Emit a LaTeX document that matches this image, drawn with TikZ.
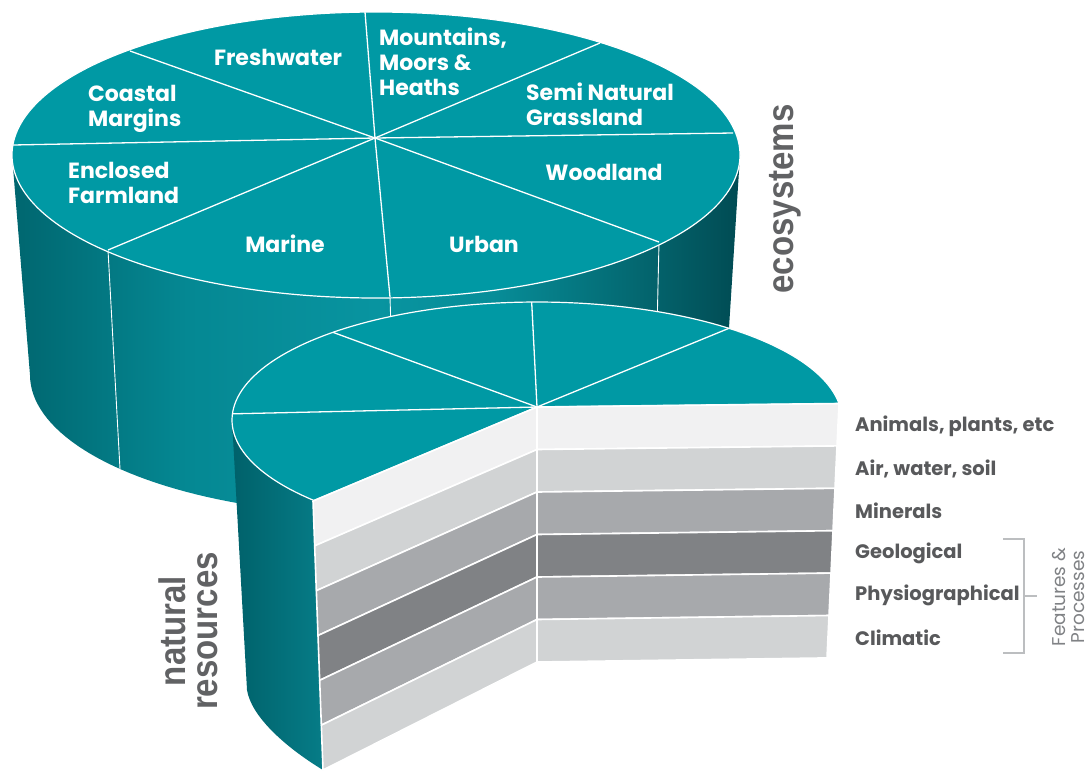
\documentclass[tikz,border=0pt]{standalone}
\usepackage{fontspec}
\setmainfont{Poppins}
\newfontfamily\heavyfont{Liberation Sans}
\definecolor{tealtop}{HTML}{0099A4}
\definecolor{labgray}{HTML}{58595B}
\definecolor{headgray}{HTML}{616264}
\definecolor{brgray}{HTML}{BCBEC0}
\definecolor{featgray}{HTML}{808285}
\definecolor{layA}{HTML}{F1F1F2}
\definecolor{layB}{HTML}{D1D3D4}
\definecolor{layC}{HTML}{A7A9AC}
\definecolor{layD}{HTML}{808285}
\definecolor{sA}{HTML}{00666F}
\definecolor{sB}{HTML}{058893}
\definecolor{sC}{HTML}{0894A0}
\definecolor{sD}{HTML}{078D98}
\definecolor{sE}{HTML}{046B74}
\definecolor{sF}{HTML}{014B53}
\definecolor{lA}{HTML}{00616A}
\definecolor{lB}{HTML}{067C87}
\pgfdeclarehorizontalshading{uppersideshade}{100bp}{color(0bp)=(sA); color(25bp)=(sA); color(37bp)=(sB); color(50bp)=(sC); color(58bp)=(sD); color(67bp)=(sE); color(75bp)=(sF); color(100bp)=(sF)}
\pgfdeclarehorizontalshading{lowersideshade}{100bp}{color(0bp)=(lA); color(25bp)=(lA); color(75bp)=(lB); color(100bp)=(lB)}
\begin{document}
\begin{tikzpicture}[x=1pt,y=-1pt,
  spoke/.style={white, line width=1.3pt},
  rim/.style={white, line width=1.2pt},
  seam/.style={white, line width=0.9pt},
  seglabel/.style={text=white, font=\fontsize{22}{25}\selectfont\bfseries, inner sep=0pt},
  seglabelml/.style={seglabel, align=left, anchor=north west},
  layerlabel/.style={text=labgray, font=\fontsize{19.5}{22}\selectfont\bfseries, anchor=west, inner sep=0pt},
  headlabel/.style={text=headgray, font=\heavyfont\fontsize{33}{33}\selectfont\bfseries, rotate=90, anchor=base, inner sep=0pt},
  featlabel/.style={text=featgray, font=\fontsize{18.5}{20}\selectfont, rotate=90, anchor=base, inner sep=0pt},
  bracketline/.style={brgray, line width=1.6pt},
  layerface/.style={draw=white, line width=1.6pt, line join=round}]
\useasboundingbox (0,0) rectangle (1091,772);

% ---------- upper cylinder (ecosystems) ----------
\shade[shading=uppersideshade]
  plot[domain=180:0,samples=90] ({378+348*cos(\x)},{375+140*sin(\x)})
  -- plot[domain=0:180,samples=90] ({376+364*cos(\x)},{155+143*sin(\x)}) -- cycle;
\draw[seam] (108,250) -- (120,469);
\draw[seam] (390,297) -- (391,330);
\draw[seam] (659,242) -- (657,330);

\fill[tealtop] (376,155) ellipse [x radius=364, y radius=143];
\draw[rim] (376,155) ellipse [x radius=364, y radius=143];
\coordinate (hubA) at (375,138);
\foreach \p in {(365,12),(130,51),(13,145),(108,250),(390,297),(659,242),(733,133),(600,43)}
  \draw[spoke] (hubA) -- \p;

\node[seglabel, anchor=base] (fresh) at (278,65) {Freshwater};
\node[seglabelml] (mount) at (379,28) {Mountains,\\Moors \&\\Heaths};
\node[seglabelml] (coast) at (88,85) {Coastal\\Margins};
\node[seglabelml] (encl) at (68,162) {Enclosed\\Farmland};
\node[seglabelml] (semi) at (526,83) {Semi Natural\\Grassland};
\node[seglabel, anchor=base] (wood) at (604,180) {Woodland};
\node[seglabel, anchor=base] (marine) at (285,252) {Marine};
\node[seglabel, anchor=base] (urban) at (484,252) {Urban};

% ---------- lower cylinder (natural resources) ----------
\shade[shading=lowersideshade] (232,420)
  -- plot[domain=180:137,samples=40] ({537+305*cos(\x)},{420+118*sin(\x)})
  -- (323,770) .. controls (282,745) and (251,715) .. (247,690) -- cycle;

\fill[tealtop] (537,407) -- plot[domain=137:352,samples=120] ({537+305*cos(\x)},{420+118*sin(\x)}) -- cycle;
\draw[rim] plot[domain=137:352,samples=120] ({537+305*cos(\x)},{420+118*sin(\x)});
\coordinate (hubB) at (537,407);
\foreach \a in {183,228,269,309}
  \draw[spoke] (hubB) -- ({537+305*cos(\a)},{420+118*sin(\a)});

\foreach \c [count=\i from 0] in {layA,layB,layC,layD,layC,layB} {
  \pgfmathsetmacro\xa{313+10*\i/6}
  \pgfmathsetmacro\ya{501+44.83*\i}
  \pgfmathsetmacro\xb{313+10*(\i+1)/6}
  \pgfmathsetmacro\yb{501+44.83*(\i+1)}
  \pgfmathsetmacro\yc{407+42.5*\i}
  \pgfmathsetmacro\yd{407+42.5*(\i+1)}
  \pgfmathsetmacro\xe{839-12*\i/6}
  \pgfmathsetmacro\xf{839-12*(\i+1)/6}
  \pgfmathsetmacro\ye{403.5+42.4*\i}
  \pgfmathsetmacro\yf{403.5+42.4*(\i+1)}
  \filldraw[layerface, fill=\c] (\xa,\ya) -- (537,\yc) -- (537,\yd) -- (\xb,\yb) -- cycle;
  \filldraw[layerface, fill=\c] (537,\yc) -- (\xe,\ye) -- (\xf,\yf) -- (537,\yd) -- cycle;
}
\draw[spoke] (hubB) -- ({537+305*cos(137)},{420+118*sin(137)});
\draw[spoke] (hubB) -- ({537+305*cos(352)},{420+118*sin(352)});

% ---------- labels ----------
\node[layerlabel] (l1) at (855,426) {Animals, plants, etc};
\node[layerlabel] (l2) at (855,468.5) {Air, water, soil};
\node[layerlabel] (l3) at (855,511) {Minerals};
\node[layerlabel] (l4) at (855,553) {Geological};
\node[layerlabel] (l5) at (855,595.5) {Physiographical};
\node[layerlabel] (l6) at (855,638) {Climatic};

\draw[bracketline] (1003,539) -- (1024,539) -- (1024,653) -- (1003,653);
\draw[bracketline] (1024,596) -- (1037,596);
\node[featlabel] (feat1) at (1065,597) {Features \&};
\node[featlabel] (feat2) at (1084,597) {Processes};

\node[headlabel] (eco) at (793,199) {\scalebox{1}[1.12]{ecosystems}};
\node[headlabel] (nat) at (185,631) {\scalebox{1}[1.12]{natural}};
\node[headlabel] (res) at (217,631) {\scalebox{1}[1.12]{resources}};
\end{tikzpicture}
\end{document}
